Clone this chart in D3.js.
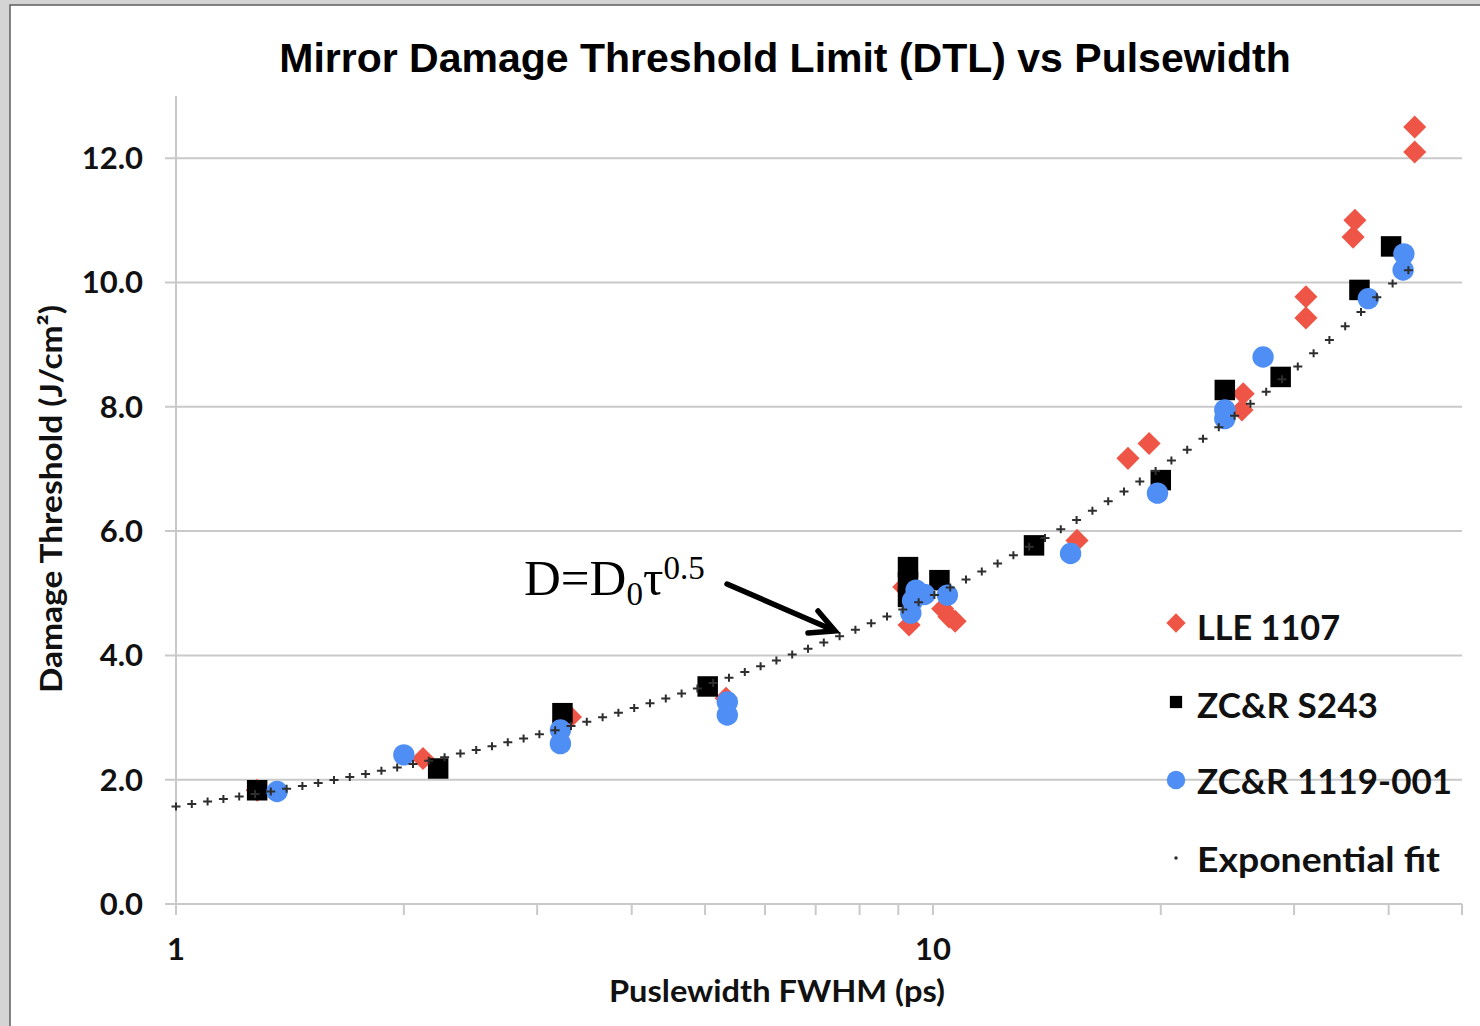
<!DOCTYPE html>
<html><head><meta charset="utf-8">
<script src="https://cdn.jsdelivr.net/npm/d3@7/dist/d3.min.js"></script>
<style>
body{margin:0;background:#d6d6d6;overflow:hidden}
svg{display:block}
</style>
</head><body>
<svg id="chart" width="1480" height="1026"></svg>
<script>
// ---------- data ----------
const title = "Mirror Damage Threshold Limit (DTL) vs Pulsewidth";
const xTitle = "Puslewidth FWHM (ps)";
const yTitle = "Damage Threshold (J/cm²)";
const seriesNames = ["LLE 1107", "ZC&R S243", "ZC&R 1119-001", "Exponential fit"];
const yTicks = [0, 2, 4, 6, 8, 10, 12];
const xTickLabels = [1, 10];
const xMinorTicks = [2,3,4,5,6,7,8,9,20,30,40,50];

const lleX = [1.28, 2.12, 3.32, 5.33, 9.15, 9.3, 10.3, 10.5, 10.7, 15.5, 18.1, 19.3, 25.7, 25.6, 31.1, 31.1, 35.9, 36.1, 43.3, 43.3];
const lleY = [1.83, 2.34, 3.01, 3.31, 5.10, 4.49, 4.75, 4.62, 4.55, 5.85, 7.17, 7.41, 8.21, 7.95, 9.77, 9.43, 10.73, 11.0, 12.5, 12.1];

const s243X = [1.28, 2.22, 3.24, 5.04, 9.27, 9.27, 9.27, 10.2, 13.6, 20.0, 24.3, 28.8, 36.6, 40.3];
const s243Y = [1.83, 2.18, 3.07, 3.50, 5.42, 5.18, 4.94, 5.21, 5.77, 6.82, 8.27, 8.48, 9.88, 10.58];

const zc1119X = [1.36, 2.0, 3.22, 3.22, 5.35, 5.35, 9.35, 9.4, 9.5, 9.75, 10.45, 15.2, 19.8, 24.3, 24.3, 27.3, 37.6, 41.9, 41.8];
const zc1119Y = [1.81, 2.40, 2.80, 2.58, 3.25, 3.04, 4.68, 4.88, 5.05, 4.98, 4.97, 5.64, 6.61, 7.95, 7.81, 8.80, 9.74, 10.46, 10.20];

const fitX = [1, 1.5, 2, 3, 4, 5, 6, 8, 10, 12, 15, 20, 25, 30, 35, 40, 43.5];
const fitY = [1.57, 1.92, 2.22, 2.72, 3.14, 3.51, 3.85, 4.44, 4.96, 5.44, 6.08, 7.02, 7.85, 8.60, 9.29, 9.93, 10.3];

const colors = {lle: "#ee5546", s243: "#000000", zc: "#4f8ff5", fit: "#2e2e2e"};

// ---------- layout ----------
const svg = d3.select("#chart");
const x = d3.scaleLog().domain([1, 50]).range([176, 1462]);
const y = d3.scaleLinear().domain([0, 13]).range([904, 96]);
const font = "Lato, 'Open Sans', sans-serif";

// background panel
svg.append("rect").attr("x", 0).attr("y", 0).attr("width", 1480).attr("height", 1026).attr("fill", "#d4d4d4");
svg.append("rect").attr("x", 10).attr("y", 5).attr("width", 1490).attr("height", 1040)
  .attr("fill", "#fff").attr("stroke", "#5e5e5e").attr("stroke-width", 1.5);

// title
svg.append("text").attr("x", 785).attr("y", 72).attr("text-anchor", "middle")
  .attr("font-family", "'Liberation Sans', Arial, sans-serif").attr("font-weight", "bold")
  .attr("font-size", 41).attr("fill", "#000").text(title);

// gridlines
svg.append("g").selectAll("line").data(yTicks).join("line")
  .attr("x1", 165).attr("x2", x.range()[1])
  .attr("y1", d => y(d)).attr("y2", d => y(d))
  .attr("stroke", "#c9c9c9").attr("stroke-width", 2);

// y axis line
svg.append("line").attr("x1", x(1)).attr("x2", x(1)).attr("y1", y(13)).attr("y2", y(0))
  .attr("stroke", "#c9c9c9").attr("stroke-width", 2);

// x ticks
svg.append("g").selectAll("line").data(xTickLabels.concat(xMinorTicks)).join("line")
  .attr("x1", d => x(d)).attr("x2", d => x(d)).attr("y1", y(0)).attr("y2", y(0) + 11)
  .attr("stroke", "#c9c9c9").attr("stroke-width", 2);

// y tick labels
svg.append("g").selectAll("text").data(yTicks).join("text")
  .attr("x", 143).attr("y", d => y(d) + 11).attr("text-anchor", "end")
  .attr("font-family", font).attr("font-weight", "bold").attr("font-size", 31).attr("fill", "#111")
  .text(d => d3.format(".1f")(d));

// x tick labels
svg.append("g").selectAll("text").data(xTickLabels).join("text")
  .attr("x", d => x(d)).attr("y", 960).attr("text-anchor", "middle")
  .attr("font-family", font).attr("font-weight", "bold").attr("font-size", 31).attr("fill", "#111")
  .text(d => d);

// axis titles
svg.append("text").attr("x", 777).attr("y", 1002).attr("text-anchor", "middle")
  .attr("font-family", font).attr("font-weight", "bold").attr("font-size", 30).attr("fill", "#111")
  .attr("textLength", 336).attr("lengthAdjust", "spacingAndGlyphs").text(xTitle);
svg.append("text").attr("transform", "translate(62,499) rotate(-90)").attr("text-anchor", "middle")
  .attr("font-family", font).attr("font-weight", "bold").attr("font-size", 30).attr("fill", "#111")
  .attr("textLength", 388).attr("lengthAdjust", "spacingAndGlyphs").text(yTitle);

// ---------- series ----------
const diamond = d3.symbol().type(d3.symbolDiamond2).size(340);
const square = d3.symbol().type(d3.symbolSquare).size(420);
const circle = d3.symbol().type(d3.symbolCircle).size(360);

function drawSeries(xs, ys, sym, color) {
  svg.append("g").selectAll("path").data(xs.map((v, i) => [v, ys[i]])).join("path")
    .attr("transform", d => `translate(${x(d[0])},${y(d[1])})`)
    .attr("d", sym).attr("fill", color);
}
drawSeries(lleX, lleY, diamond, colors.lle);
drawSeries(s243X, s243Y, square, colors.s243);
drawSeries(zc1119X, zc1119Y, circle, colors.zc);

// fit: path from read values, "+" marks placed along it
const fitPts = fitX.map((v, i) => [v, fitY[i]]);
const fitPath = svg.append("path")
  .attr("d", d3.line().x(d => x(d[0])).y(d => y(d[1])).curve(d3.curveMonotoneX)(fitPts))
  .attr("fill", "none").attr("stroke", "none");
const node = fitPath.node();
const total = node.getTotalLength();
const x0 = x(fitX[0]), x1 = x(fitX[fitX.length - 1]);
const marks = [];
for (let px = x0; px <= x1 + 0.1; px += 15.8) {
  let lo = 0, hi = total;
  for (let k = 0; k < 30; k++) {
    const mid = (lo + hi) / 2;
    if (node.getPointAtLength(mid).x < px) lo = mid; else hi = mid;
  }
  marks.push(node.getPointAtLength(lo));
}
svg.append("g").selectAll("path").data(marks).join("path")
  .attr("transform", p => `translate(${p.x},${p.y})`)
  .attr("d", "M-4.5,0H4.5M0,-4V4")
  .attr("stroke", colors.fit).attr("stroke-width", 2).attr("fill", "none");

// ---------- annotation ----------
const ann = svg.append("text").attr("x", 524).attr("y", 595)
  .attr("font-family", "'Liberation Serif', 'Times New Roman', serif").attr("font-size", 51).attr("fill", "#000");
ann.append("tspan").text("D=D");
ann.append("tspan").attr("font-size", 33).attr("dy", 10).text("0");
ann.append("tspan").attr("dy", -10).text("τ");
ann.append("tspan").attr("font-size", 33).attr("dy", -16).text("0.5");

svg.append("line").attr("x1", 727).attr("y1", 584).attr("x2", 833).attr("y2", 630)
  .attr("stroke", "#000").attr("stroke-width", 5.5).attr("stroke-linecap", "round");
svg.append("path").attr("d", "M818,611 L835,631 L808,633")
  .attr("fill", "none").attr("stroke", "#000").attr("stroke-width", 5.5)
  .attr("stroke-linecap", "round").attr("stroke-linejoin", "miter");

// ---------- legend ----------
const legendRows = [
  {name: seriesNames[0], sym: d3.symbol().type(d3.symbolDiamond2).size(240), color: colors.lle, my: 623, ty: 640, w: 143},
  {name: seriesNames[1], sym: d3.symbol().type(d3.symbolSquare).size(150), color: colors.s243, my: 702, ty: 718, w: 181},
  {name: seriesNames[2], sym: d3.symbol().type(d3.symbolCircle).size(270), color: colors.zc, my: 780, ty: 794, w: 255},
  {name: seriesNames[3], sym: d3.symbol().type(d3.symbolCircle).size(10), color: colors.fit, my: 858, ty: 872, w: 243}
];
const lg = svg.append("g");
lg.selectAll("path").data(legendRows).join("path")
  .attr("transform", d => `translate(1176,${d.my})`).attr("d", d => d.sym()).attr("fill", d => d.color);
lg.selectAll("text").data(legendRows).join("text")
  .attr("x", 1197).attr("y", d => d.ty)
  .attr("font-family", font).attr("font-weight", "bold").attr("font-size", 35).attr("fill", "#111")
  .attr("textLength", d => d.w).attr("lengthAdjust", "spacingAndGlyphs").text(d => d.name);
</script>
</body></html>
